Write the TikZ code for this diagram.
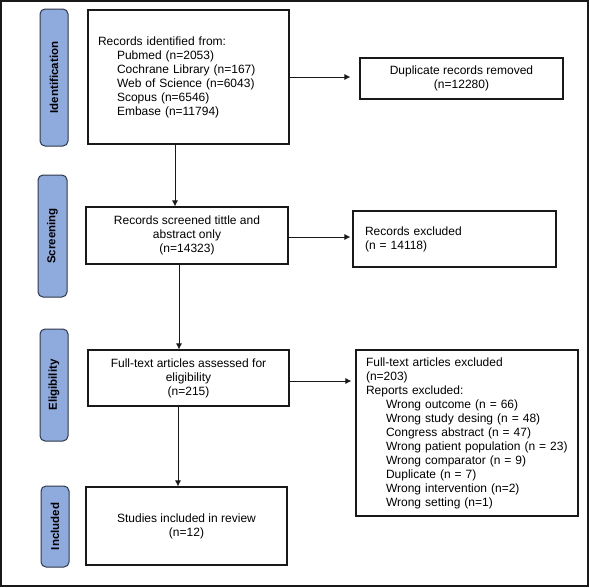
\documentclass[tikz,border=0pt]{standalone}
\usepackage{fontspec}
\setmainfont{Liberation Sans}
\usetikzlibrary{arrows.meta}
\definecolor{phasefill}{RGB}{143,170,220}
\definecolor{phaseline}{RGB}{45,55,75}
\definecolor{inkc}{RGB}{25,25,25}
\tikzset{
  box/.style={draw=inkc, line width=1.1pt, fill=white, font=\fontsize{12}{14}\selectfont, inner ysep=2pt},
  lbox/.style={box, align=left},
  cbox/.style={box, align=center},
  phase/.style={draw=phaseline, line width=1pt, fill=phasefill, rounded corners=5pt, rotate=90,
    font=\fontsize{11.5}{13}\selectfont\bfseries, inner sep=0pt},
  arr/.style={draw=inkc, line width=0.9pt, -{Latex[length=6pt,width=6pt]}},
}
\begin{document}
\begin{tikzpicture}[x=1pt,y=-1pt]
\useasboundingbox (0,0) rectangle (589,587);
\draw[draw=inkc, line width=1.5pt] (1,1) rectangle (588,586);

% phase labels
\node[phase, minimum width=137pt, minimum height=28pt] (pid) at (54,77.5) {Identification};
\node[phase, minimum width=122pt, minimum height=29pt] (psc) at (52.5,236) {Screening};
\node[phase, minimum width=112pt, minimum height=28pt] (pel) at (54,385) {Eligibility};
\node[phase, minimum width=81pt, minimum height=28pt] (pin) at (55,526.5) {Included};

% boxes
\node[lbox, inner xsep=10pt, text width=181pt, minimum height=134pt] (ident) at (188.5,77)
  {Records identified from:\\
   \hspace*{19pt}Pubmed (n=2053)\\
   \hspace*{19pt}Cochrane Library (n=167)\\
   \hspace*{19pt}Web of Science (n=6043)\\
   \hspace*{19pt}Scopus (n=6546)\\
   \hspace*{19pt}Embase (n=11794)};
\node[cbox, minimum width=203pt, minimum height=41pt] (dup) at (461.5,78.5)
  {Duplicate records removed\\(n=12280)};
\node[cbox, minimum width=202pt, minimum height=57pt] (screen) at (187,235.5)
  {Records screened tittle and\\abstract only\\(n=14323)};
\node[lbox, inner xsep=12pt, text width=179pt, minimum height=56pt] (excl1) at (454.5,239)
  {Records excluded\\(n = 14118)};
\node[cbox, minimum width=201pt, minimum height=56pt] (full) at (188.5,378)
  {Full-text articles assessed for\\eligibility\\(n=215)};
\node[lbox, inner xsep=10pt, text width=202pt, minimum height=166pt] (excl2) at (467,433)
  {Full-text articles excluded\\
   (n=203)\\
   Reports excluded:\\
   \hspace*{20pt}Wrong outcome (n = 66)\\
   \hspace*{20pt}Wrong study desing (n = 48)\\
   \hspace*{20pt}Congress abstract (n = 47)\\
   \hspace*{20pt}Wrong patient population (n = 23)\\
   \hspace*{20pt}Wrong comparator (n = 9)\\
   \hspace*{20pt}Duplicate (n = 7)\\
   \hspace*{20pt}Wrong intervention (n=2)\\
   \hspace*{20pt}Wrong setting (n=1)};
\node[cbox, minimum width=201pt, minimum height=78pt] (incl) at (186.5,526)
  {Studies included in review\\(n=12)};

% connectors
\coordinate (c1) at (175,0);
\coordinate (c2) at (179,0);
\coordinate (c3) at (178,0);
\draw[arr] (c1 |- ident.south) -- (c1 |- screen.north);
\draw[arr] (c2 |- screen.south) -- (c2 |- full.north);
\draw[arr] (c3 |- full.south) -- (c3 |- incl.north);
\draw[arr, shorten >=9pt] (ident.east) -- (ident.east -| dup.west);
\draw[arr, shorten >=2pt] ([yshift=-1.5pt]screen.east) -- ([yshift=-1.5pt]screen.east -| excl1.west);
\draw[arr, shorten >=4pt] ([yshift=-3pt]full.east) -- ([yshift=-3pt]full.east -| excl2.west);
\end{tikzpicture}
\end{document}
